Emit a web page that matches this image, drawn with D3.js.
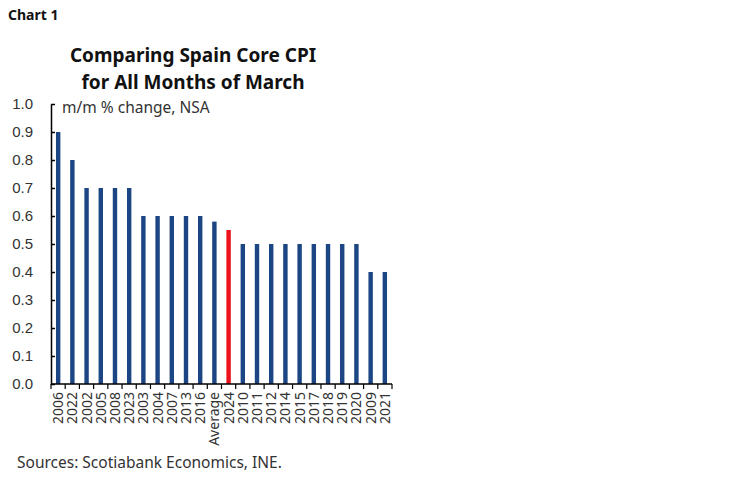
<!DOCTYPE html>
<html>
<head>
<meta charset="utf-8">
<script src="https://cdn.jsdelivr.net/npm/d3@7"></script>
<style>
body { margin: 0; background: #fff; }
svg { font-family: "Noto Sans", "Open Sans", sans-serif; }
</style>
</head>
<body>
<svg id="chart" width="748" height="483"></svg>
<script>
// march core cpi, m/m %, sorted
var years = ["2006", "2022", "2002", "2005", "2008", "2023", "2003", "2004", "2007", "2013", "2016",
    "Average", "2024", "2010", "2011", "2012", "2014", "2015", "2017", "2018", "2019", "2020", "2009", "2021"];
var values = [0.9, 0.8, 0.7, 0.7, 0.7, 0.7, 0.6, 0.6, 0.6, 0.6, 0.6,
    0.58, 0.55, 0.5, 0.5, 0.5, 0.5, 0.5, 0.5, 0.5, 0.5, 0.5, 0.4, 0.4];
var yTicks = [0, 0.1, 0.2, 0.3, 0.4, 0.5, 0.6, 0.7, 0.8, 0.9, 1.0];

var svg = d3.select("#chart");
var margin = {left: 51, right: 356, top: 104, bottom: 99};
var width = 748 - margin.left - margin.right;
var height = 483 - margin.top - margin.bottom;

var data = years.map(function(d, i) { return {year: d, value: values[i]}; });

var x = d3.scaleBand().domain(years).range([0, width]).paddingInner(0.69).paddingOuter(0.35);
var y = d3.scaleLinear().domain([0, 1]).range([height, 0]);

var g = svg.append("g").attr("transform", "translate(" + margin.left + "," + margin.top + ")");

g.selectAll("rect").data(data).enter().append("rect")
    .attr("x", function(d) { return x(d.year); })
    .attr("y", function(d) { return y(d.value); })
    .attr("width", x.bandwidth())
    .attr("height", function(d) { return height - y(d.value); })
    .attr("fill", function(d) { return d.year == "2024" ? "#ec111a" : "#1c4683"; });

// y axis, ticks pointing in
var yAxis = g.append("g")
    .call(d3.axisLeft(y).tickValues(yTicks).tickFormat(d3.format(".1f")).tickSizeInner(-4).tickSizeOuter(0).tickPadding(18));
yAxis.select(".domain").attr("stroke", "#000").attr("stroke-width", 1.5);
yAxis.selectAll(".tick line").attr("stroke", "#000").attr("stroke-width", 1.5);
yAxis.selectAll("text").attr("font-size", 15).attr("fill", "#333");

// x axis, ticks between bands
var xAxis = g.append("g").attr("transform", "translate(0," + height + ")");
xAxis.append("line").attr("x1", 0).attr("x2", width).attr("stroke", "#000").attr("stroke-width", 1.5);
xAxis.selectAll("line.tk").data(d3.range(years.length + 1)).enter().append("line")
    .attr("class", "tk")
    .attr("x1", function(i) { return i * width / years.length; })
    .attr("x2", function(i) { return i * width / years.length; })
    .attr("y1", 0).attr("y2", 5)
    .attr("stroke", "#000").attr("stroke-width", 1.2);
xAxis.selectAll("text").data(years).enter().append("text")
    .attr("transform", function(d) { return "translate(" + (x(d) + x.bandwidth() / 2 + 5) + ",8) rotate(-90)"; })
    .attr("text-anchor", "end")
    .attr("font-size", 14)
    .attr("fill", "#333")
    .text(function(d) { return d; });

svg.append("text").attr("x", 8).attr("y", 20)
    .attr("font-size", 14).attr("font-weight", "bold").attr("fill", "#111").text("Chart 1");

var title = svg.append("text").attr("text-anchor", "middle")
    .attr("font-size", 19).attr("font-weight", "bold").attr("fill", "#111");
title.append("tspan").attr("x", 193).attr("y", 62).text("Comparing Spain Core CPI");
title.append("tspan").attr("x", 193).attr("y", 89).text("for All Months of March");

svg.append("text").attr("x", 62).attr("y", 113)
    .attr("font-size", 15.5).attr("fill", "#333").text("m/m % change, NSA");

svg.append("text").attr("x", 17).attr("y", 468)
    .attr("font-size", 15.5).attr("fill", "#333").text("Sources: Scotiabank Economics, INE.");
</script>
</body>
</html>
